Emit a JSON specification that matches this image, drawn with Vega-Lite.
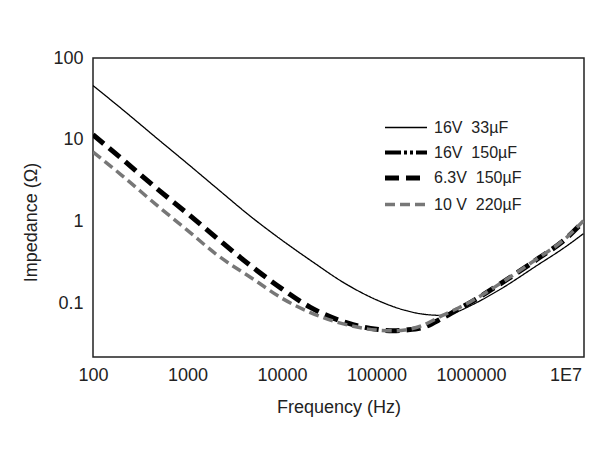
{
  "$schema": "https://vega.github.io/schema/vega-lite/v6.json",
  "width": 491,
  "height": 299,
  "autosize": {"type": "none"},
  "padding": {"left": 93, "top": 58, "right": 18, "bottom": 101},
  "background": "white",
  "config": {
    "font": "Liberation Sans",
    "view": {"stroke": "#222", "strokeWidth": 1.5},
    "axis": {
      "grid": false,
      "ticks": false,
      "domain": false,
      "labelFlush": false,
      "labelFontSize": 18,
      "labelColor": "#222",
      "titleFontSize": 18,
      "titleFontWeight": "normal",
      "titleColor": "#222"
    }
  },
  "data": {
    "values": [
      {"series": "16V\u00a0 33µF", "f": 100, "z": 46},
      {"series": "16V\u00a0 33µF", "f": 200, "z": 24},
      {"series": "16V\u00a0 33µF", "f": 500, "z": 9.9},
      {"series": "16V\u00a0 33µF", "f": 1000, "z": 5.1},
      {"series": "16V\u00a0 33µF", "f": 2000, "z": 2.6},
      {"series": "16V\u00a0 33µF", "f": 5000, "z": 1.08},
      {"series": "16V\u00a0 33µF", "f": 10000, "z": 0.59},
      {"series": "16V\u00a0 33µF", "f": 20000, "z": 0.335},
      {"series": "16V\u00a0 33µF", "f": 50000, "z": 0.166},
      {"series": "16V\u00a0 33µF", "f": 100000, "z": 0.11},
      {"series": "16V\u00a0 33µF", "f": 200000, "z": 0.082},
      {"series": "16V\u00a0 33µF", "f": 300000, "z": 0.074},
      {"series": "16V\u00a0 33µF", "f": 500000, "z": 0.071},
      {"series": "16V\u00a0 33µF", "f": 700000, "z": 0.078},
      {"series": "16V\u00a0 33µF", "f": 1000000, "z": 0.094},
      {"series": "16V\u00a0 33µF", "f": 2000000, "z": 0.146},
      {"series": "16V\u00a0 33µF", "f": 5000000, "z": 0.29},
      {"series": "16V\u00a0 33µF", "f": 10000000, "z": 0.49},
      {"series": "16V\u00a0 33µF", "f": 15500000, "z": 0.71},
      {"series": "6.3V\u00a0 150µF", "f": 100, "z": 11.5},
      {"series": "6.3V\u00a0 150µF", "f": 200, "z": 5.9},
      {"series": "6.3V\u00a0 150µF", "f": 500, "z": 2.4},
      {"series": "6.3V\u00a0 150µF", "f": 1000, "z": 1.25},
      {"series": "6.3V\u00a0 150µF", "f": 2000, "z": 0.64},
      {"series": "6.3V\u00a0 150µF", "f": 5000, "z": 0.27},
      {"series": "6.3V\u00a0 150µF", "f": 10000, "z": 0.15},
      {"series": "6.3V\u00a0 150µF", "f": 20000, "z": 0.089},
      {"series": "6.3V\u00a0 150µF", "f": 50000, "z": 0.057},
      {"series": "6.3V\u00a0 150µF", "f": 100000, "z": 0.048},
      {"series": "6.3V\u00a0 150µF", "f": 150000, "z": 0.046},
      {"series": "6.3V\u00a0 150µF", "f": 200000, "z": 0.047},
      {"series": "6.3V\u00a0 150µF", "f": 300000, "z": 0.05},
      {"series": "6.3V\u00a0 150µF", "f": 500000, "z": 0.066},
      {"series": "6.3V\u00a0 150µF", "f": 700000, "z": 0.082},
      {"series": "6.3V\u00a0 150µF", "f": 1000000, "z": 0.103},
      {"series": "6.3V\u00a0 150µF", "f": 2000000, "z": 0.17},
      {"series": "6.3V\u00a0 150µF", "f": 5000000, "z": 0.345},
      {"series": "6.3V\u00a0 150µF", "f": 10000000, "z": 0.61},
      {"series": "6.3V\u00a0 150µF", "f": 15500000, "z": 1.0},
      {"series": "10 V\u00a0 220µF", "f": 100, "z": 7.1},
      {"series": "10 V\u00a0 220µF", "f": 200, "z": 3.7},
      {"series": "10 V\u00a0 220µF", "f": 500, "z": 1.5},
      {"series": "10 V\u00a0 220µF", "f": 1000, "z": 0.78},
      {"series": "10 V\u00a0 220µF", "f": 2000, "z": 0.4},
      {"series": "10 V\u00a0 220µF", "f": 5000, "z": 0.196},
      {"series": "10 V\u00a0 220µF", "f": 10000, "z": 0.115},
      {"series": "10 V\u00a0 220µF", "f": 20000, "z": 0.077},
      {"series": "10 V\u00a0 220µF", "f": 50000, "z": 0.054},
      {"series": "10 V\u00a0 220µF", "f": 100000, "z": 0.047},
      {"series": "10 V\u00a0 220µF", "f": 150000, "z": 0.046},
      {"series": "10 V\u00a0 220µF", "f": 200000, "z": 0.047},
      {"series": "10 V\u00a0 220µF", "f": 300000, "z": 0.053},
      {"series": "10 V\u00a0 220µF", "f": 500000, "z": 0.071},
      {"series": "10 V\u00a0 220µF", "f": 700000, "z": 0.085},
      {"series": "10 V\u00a0 220µF", "f": 1000000, "z": 0.105},
      {"series": "10 V\u00a0 220µF", "f": 2000000, "z": 0.172},
      {"series": "10 V\u00a0 220µF", "f": 5000000, "z": 0.35},
      {"series": "10 V\u00a0 220µF", "f": 10000000, "z": 0.62},
      {"series": "10 V\u00a0 220µF", "f": 15500000, "z": 1.02}
    ]
  },
  "mark": {"type": "line", "interpolate": "monotone", "clip": true},
  "encoding": {
    "x": {
      "field": "f",
      "type": "quantitative",
      "scale": {"type": "log", "domain": [100, 15700000], "nice": false},
      "axis": {
        "title": "Frequency (Hz)",
        "values": [100, 1000, 10000, 100000, 1000000, 10000000],
        "labelExpr": "datum.value >= 10000000 ? '1E7' : format(datum.value, 'd')",
        "labelPadding": 9,
        "titlePadding": 14
      }
    },
    "y": {
      "field": "z",
      "type": "quantitative",
      "scale": {"type": "log", "domain": [0.022, 100], "nice": false},
      "axis": {
        "title": "Impedance (Ω)",
        "values": [0.1, 1, 10, 100],
        "labelExpr": "datum.value + ''",
        "labelPadding": 10,
        "titlePadding": 12,
        "titleY": 164
      }
    },
    "color": {
      "field": "series",
      "type": "nominal",
      "scale": {
        "domain": ["16V\u00a0 33µF", "16V\u00a0 150µF", "6.3V\u00a0 150µF", "10 V\u00a0 220µF"],
        "range": ["#000000", "#000000", "#000000", "#777777"]
      },
      "legend": {
        "title": null,
        "orient": "none",
        "legendX": 300,
        "legendY": 58,
        "symbolType": "M-2,0H2",
        "symbolSize": 441,
        "rowPadding": 4,
        "labelOffset": 15,
        "labelFontSize": 16,
        "labelColor": "#222",
        "labelLimit": 200
      }
    },
    "strokeDash": {
      "field": "series",
      "type": "nominal",
      "scale": {
        "domain": ["16V\u00a0 33µF", "16V\u00a0 150µF", "6.3V\u00a0 150µF", "10 V\u00a0 220µF"],
        "range": [[1, 0], [16, 3, 3, 3, 3, 3], [14, 7], [10, 5]]
      }
    },
    "strokeWidth": {
      "field": "series",
      "type": "nominal",
      "scale": {
        "type": "ordinal",
        "domain": ["16V\u00a0 33µF", "16V\u00a0 150µF", "6.3V\u00a0 150µF", "10 V\u00a0 220µF"],
        "range": [1.3, 4, 5, 3.5]
      }
    }
  }
}
